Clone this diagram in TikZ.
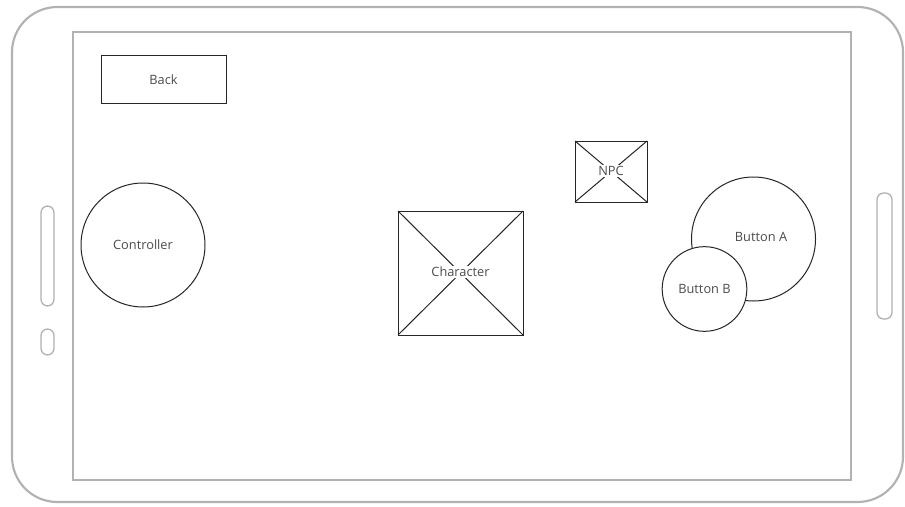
\documentclass[tikz,border=0pt]{standalone}
\usepackage{fontspec}
\setmainfont{Open Sans}
\begin{document}
\begin{tikzpicture}[x=0.75pt,y=-0.75pt,
  phone/.style={draw=black!30,line width=1.6pt},
  screen/.style={draw=black!30,line width=1.2pt},
  slot/.style={draw=black!30,line width=1pt,rounded corners=5pt},
  wire/.style={draw=black!85,line width=0.75pt},
  lbl/.style={font=\fontsize{9.6}{11}\selectfont,text=black!70},
  lblbg/.style={lbl,fill=white,inner sep=1pt}]
\useasboundingbox (0,0) rectangle (905,506);
\fill[white] (0,0) rectangle (905,506);
% phone body
\draw[phone,rounded corners=34pt] (12,7) rectangle (903,502);
\draw[screen] (73,32) rectangle (851,480);
% side slots
\draw[slot] (41,206) rectangle (54,306);
\draw[slot] (41,329) rectangle (54,355);
\draw[slot] (877,193) rectangle (892,319);
% Back button
\node[wire,draw,minimum width=93.75pt,minimum height=36pt,inner sep=0pt,lbl] (back) at (163.5,80) {Back};
% Controller
\node[wire,draw,circle,minimum size=93pt,inner sep=0pt,lbl] (ctrl) at (143,245) {Controller};
% Character
\coordinate (c1) at (398,211);
\coordinate (c2) at (523,211);
\coordinate (c3) at (523,335);
\coordinate (c4) at (398,335);
\draw[wire] (c1) rectangle (c3);
\draw[wire] (c1) -- (c3);
\draw[wire] (c2) -- (c4);
\node[lblbg] (char) at (460.5,272) {Character};
% NPC
\coordinate (n1) at (575,141);
\coordinate (n2) at (647,141);
\coordinate (n3) at (647,202);
\coordinate (n4) at (575,202);
\draw[wire] (n1) rectangle (n3);
\draw[wire] (n1) -- (n3);
\draw[wire] (n2) -- (n4);
\node[lblbg] (npc) at (611,171) {NPC};
% Buttons
\node[wire,draw,circle,fill=white,minimum size=93pt,inner sep=0pt] (ba) at (753.5,239) {};
\node[lbl] (balbl) at (761,237) {Button A};
\node[wire,draw,circle,fill=white,minimum size=63.5pt,inner sep=0pt,lbl] (bb) at (704.5,289) {Button B};
\end{tikzpicture}
\end{document}
